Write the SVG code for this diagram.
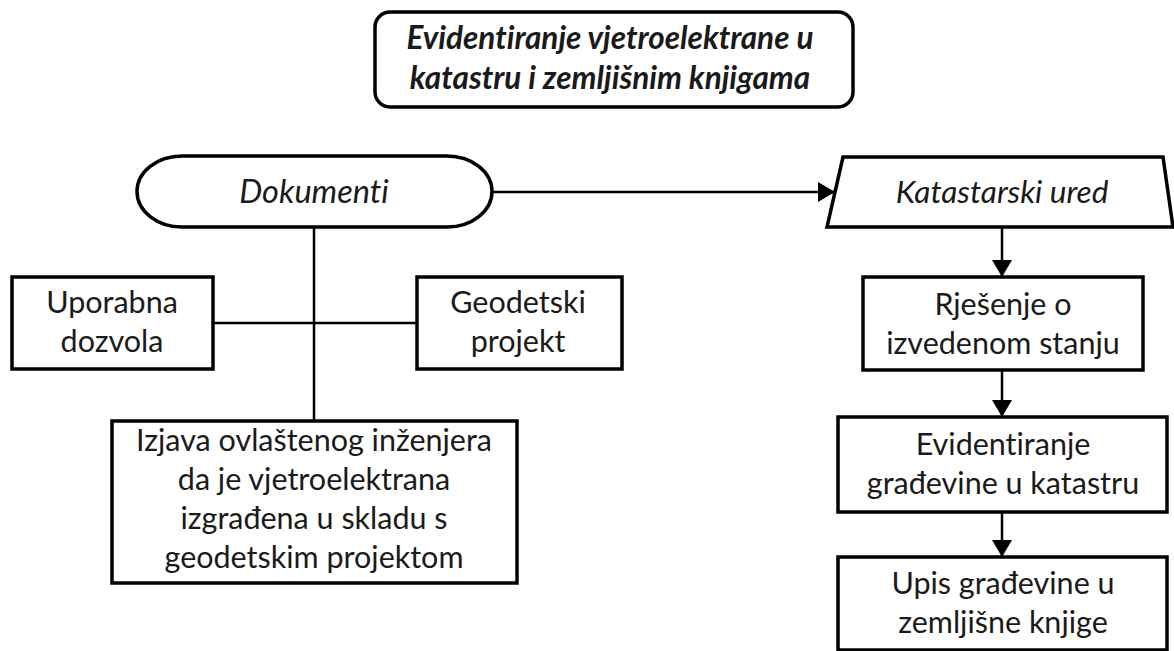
<svg xmlns="http://www.w3.org/2000/svg" width="1174" height="651" viewBox="0 0 1174 651">
<defs>
<style>
.box{fill:#fff;stroke:#000;stroke-width:3.5}
.t{font-family:Lato,"Liberation Sans",sans-serif;font-size:30.5px;fill:#1a1a1a;text-anchor:middle;font-variant-ligatures:none;font-feature-settings:"liga" 0}
.i{font-style:italic;font-size:31.5px}
.b{font-weight:bold;font-size:31.5px}
.c{stroke:#000;stroke-width:2.5;fill:none}
</style>
<marker id="ah" markerUnits="userSpaceOnUse" markerWidth="18" markerHeight="22" refX="17" refY="10" orient="auto">
<path d="M0,0 L17,10 L0,20 z" fill="#000"/>
</marker>
</defs>
<rect width="1174" height="651" fill="#fff"/>
<g id="connectors">
<line class="c" x1="314" y1="227" x2="314" y2="421"/>
<line class="c" x1="213" y1="323" x2="417" y2="323"/>
<line class="c" x1="492" y1="192" x2="835" y2="192" marker-end="url(#ah)"/>
<line class="c" x1="1002" y1="227" x2="1002" y2="277" marker-end="url(#ah)"/>
<line class="c" x1="1002" y1="370" x2="1002" y2="417" marker-end="url(#ah)"/>
<line class="c" x1="1002" y1="512" x2="1002" y2="557" marker-end="url(#ah)"/>
</g>
<g id="title">
<rect class="box" x="375" y="12" width="478" height="95" rx="15"/>
<text class="t i b" x="610" y="49">Evidentiranje vjetroelektrane u</text>
<text class="t i b" x="610" y="89">katastru i zemljišnim knjigama</text>
</g>
<g id="dokumenti">
<rect class="box" x="137" y="156" width="355" height="71" rx="45" ry="35.5"/>
<text class="t i" x="314" y="203" style="font-size:32.5px">Dokumenti</text>
</g>
<g id="uporabna">
<rect class="box" x="12" y="277" width="201" height="92"/>
<text class="t" x="112" y="313">Uporabna</text>
<text class="t" x="112" y="352">dozvola</text>
</g>
<g id="geodetski">
<rect class="box" x="417" y="277" width="205" height="92"/>
<text class="t" x="518" y="313">Geodetski</text>
<text class="t" x="518" y="352">projekt</text>
</g>
<g id="izjava">
<rect class="box" x="112" y="421" width="405" height="162"/>
<text class="t" x="314" y="451">Izjava ovlaštenog inženjera</text>
<text class="t" x="314" y="490">da je vjetroelektrana</text>
<text class="t" x="314" y="529">izgrađena u skladu s</text>
<text class="t" x="314" y="568">geodetskim projektom</text>
</g>
<g id="katastarski">
<polygon class="box" points="843,157 1163,157 1173,227 827,227"/>
<text class="t i" x="1002" y="203">Katastarski ured</text>
</g>
<g id="rjesenje">
<rect class="box" x="863" y="277" width="280" height="93"/>
<text class="t" x="1003" y="315">Rješenje o</text>
<text class="t" x="1003" y="354">izvedenom stanju</text>
</g>
<g id="evidentiranje">
<rect class="box" x="838" y="417" width="329" height="95"/>
<text class="t" x="1003" y="455">Evidentiranje</text>
<text class="t" x="1003" y="494">građevine u katastru</text>
</g>
<g id="upis">
<rect class="box" x="838" y="557" width="329" height="93"/>
<text class="t" x="1003" y="594">Upis građevine u</text>
<text class="t" x="1003" y="633">zemljišne knjige</text>
</g>
</svg>
